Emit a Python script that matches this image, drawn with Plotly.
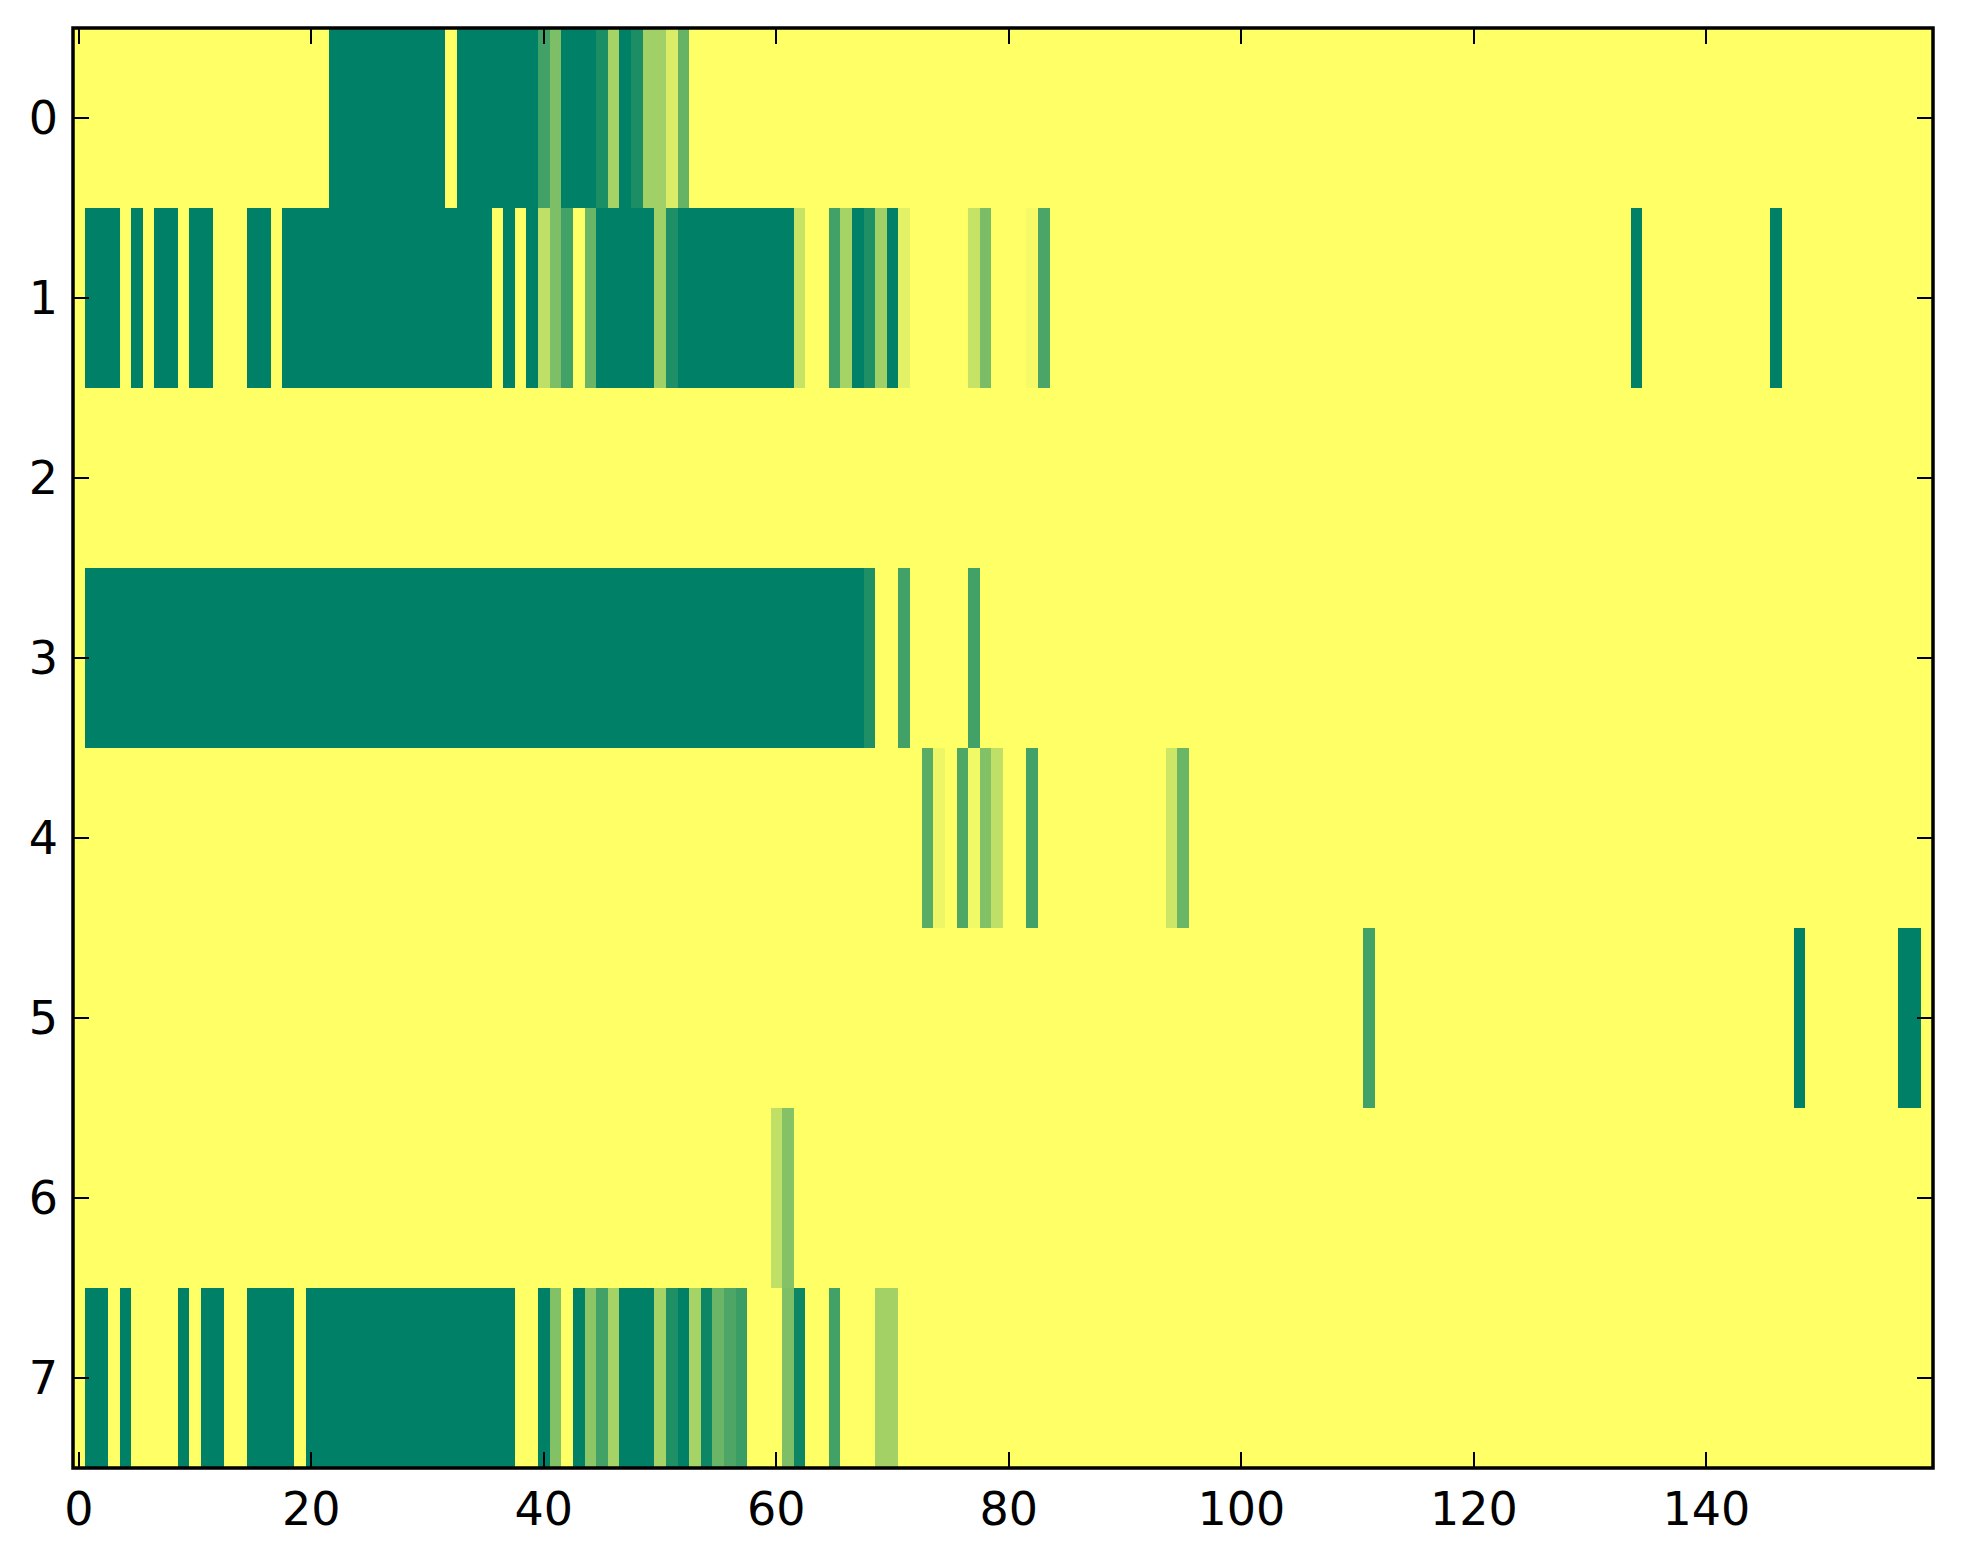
import plotly.graph_objs as go
import numpy as np

n_cols = 160
row_labels = [0, 1, 2, 3, 4, 5, 6, 7]
x_ticks = [0, 20, 40, 60, 80, 100, 120, 140]

# segments per row: (first column, last column, value); everything else is 1.0 (yellow)
row0 = [(22, 31, 0), (33, 39, 0), (40, 40, 0.26), (41, 41, 0.49), (42, 44, 0), (45, 45, 0.11),
        (46, 46, 0.65), (47, 47, 0), (48, 48, 0.11), (49, 50, 0.63), (51, 51, 0.86), (52, 52, 0.40)]
row1 = [(1, 3, 0), (5, 5, 0), (7, 8, 0), (10, 11, 0), (15, 16, 0), (18, 35, 0), (37, 37, 0),
        (39, 39, 0), (40, 40, 0.75), (41, 41, 0.49), (42, 42, 0.26), (44, 44, 0.42), (45, 49, 0),
        (50, 50, 0.63), (51, 51, 0.12), (52, 61, 0), (62, 62, 0.78), (65, 65, 0.26), (66, 66, 0.65),
        (67, 67, 0), (68, 68, 0.12), (69, 69, 0.63), (70, 70, 0), (71, 71, 0.89), (77, 77, 0.78),
        (78, 78, 0.48), (82, 82, 0.96), (83, 83, 0.29), (134, 134, 0), (146, 146, 0)]
row2 = []
row3 = [(1, 67, 0), (68, 68, 0.12), (71, 71, 0.26), (77, 77, 0.26)]
row4 = [(73, 73, 0.35), (74, 74, 0.93), (76, 76, 0.31), (77, 77, 0.95), (78, 78, 0.51),
        (79, 79, 0.75), (82, 82, 0.26), (94, 94, 0.80), (95, 95, 0.42)]
row5 = [(111, 111, 0.26), (148, 148, 0), (157, 158, 0)]
row6 = [(60, 60, 0.75), (61, 61, 0.52)]
row7 = [(1, 2, 0), (4, 4, 0), (9, 9, 0), (11, 12, 0), (15, 18, 0), (20, 37, 0), (40, 40, 0),
        (41, 41, 0.51), (43, 43, 0), (44, 44, 0.55), (45, 45, 0.26), (46, 46, 0.65), (47, 49, 0),
        (50, 50, 0.65), (51, 51, 0.12), (52, 52, 0), (53, 53, 0.65), (54, 54, 0.05), (55, 55, 0.42),
        (56, 56, 0.30), (57, 57, 0.23), (61, 61, 0.49), (62, 62, 0.05), (65, 65, 0.26), (69, 70, 0.64)]

rows = [row0, row1, row2, row3, row4, row5, row6, row7]

z = np.ones((len(rows), n_cols))
for r, segs in enumerate(rows):
    for a, b, v in segs:
        z[r, a:b + 1] = v

# matplotlib "summer": linear from (0, .5, .4) to (1, 1, .4)
summer = [[0, '#008066'], [1, '#ffff66']]

fig = go.Figure(go.Heatmap(z=z, x=np.arange(n_cols), y=row_labels, colorscale=summer,
                           zmin=0, zmax=1, showscale=False, hoverinfo='skip'))

axis_style = dict(showgrid=False, zeroline=False, showline=False,
                  mirror='ticks', ticks='inside', ticklen=16, tickwidth=1.6, tickcolor='black',
                  tickfont=dict(family='DejaVu Sans', size=46, color='black'))

fig.update_layout(
    width=1963, height=1564,
    margin=dict(l=73, r=30, t=28, b=96),
    paper_bgcolor='white', plot_bgcolor='white',
    xaxis=dict(range=[-0.5, n_cols - 0.5], tickvals=x_ticks, ticklabelstandoff=10, **axis_style),
    yaxis=dict(range=[7.5, -0.5], tickvals=row_labels, ticklabelstandoff=14, **axis_style),
)

# frame centred on the plot edges, like matplotlib spines
fig.add_shape(type='rect', xref='paper', yref='paper', x0=0, x1=1, y0=0, y1=1,
              line=dict(color='black', width=3.5), layer='above')

fig.write_html("out.html", config={'displayModeBar': False},
               post_script="document.body.style.margin='0';")
